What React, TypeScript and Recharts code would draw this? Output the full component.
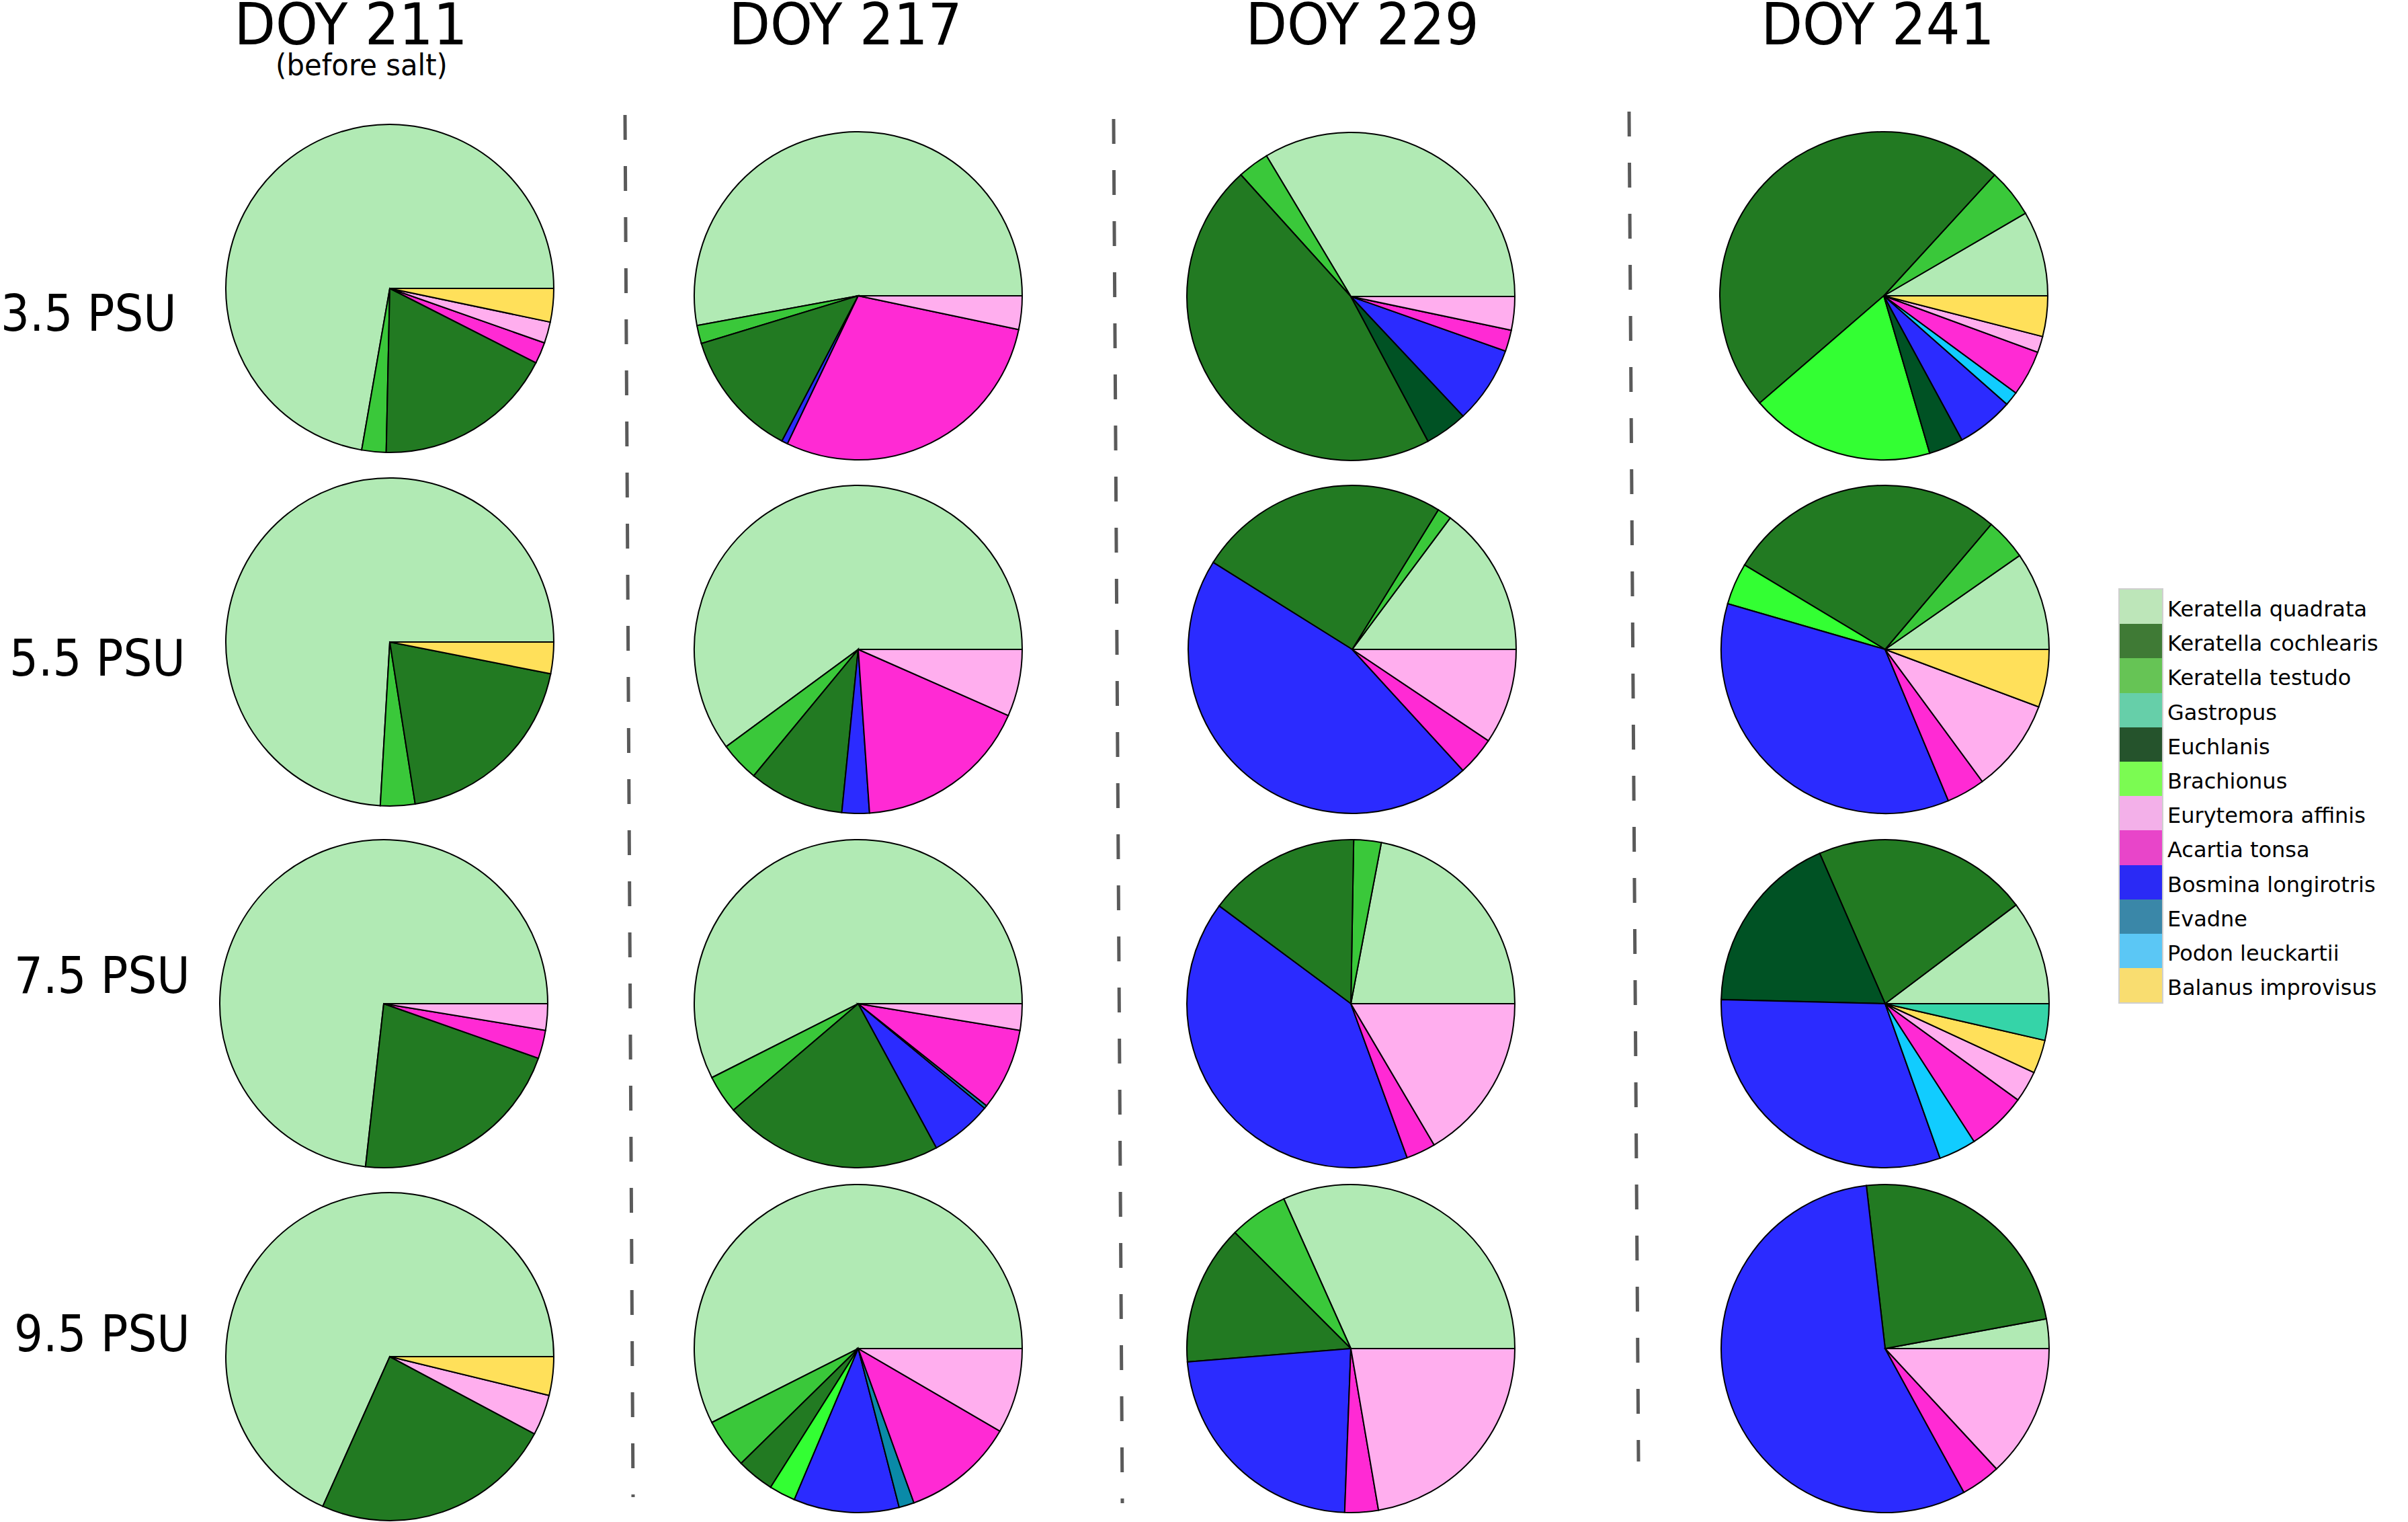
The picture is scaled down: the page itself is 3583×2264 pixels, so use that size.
import React from 'react';
import { PieChart, Pie, Cell } from 'recharts';

// ---------- data ----------
const SPECIES = [
  'Keratella quadrata',
  'Keratella cochlearis',
  'Keratella testudo',
  'Gastropus',
  'Euchlanis',
  'Brachionus',
  'Eurytemora affinis',
  'Acartia tonsa',
  'Bosmina longirotris',
  'Evadne',
  'Podon leuckartii',
  'Balanus improvisus',
];
const DAYS = ['DOY 211', 'DOY 217', 'DOY 229', 'DOY 241'];
const SALINITIES = ['3.5 PSU', '5.5 PSU', '7.5 PSU', '9.5 PSU'];

// relative abundance (%) per salinity row, values in SPECIES order
const doy211 = [
  [72.4, 17.9, 2.4, 0, 0, 0, 2.1, 2.1, 0, 0, 0, 3.3],
  [74.0, 19.4, 3.4, 0, 0, 0, 0, 0, 0, 0, 0, 3.1],
  [73.3, 21.4, 0, 0, 0, 0, 2.6, 2.8, 0, 0, 0, 0],
  [68.3, 23.9, 0, 0, 0, 0, 4.0, 0, 0, 0, 0, 3.8],
];
const doy217 = [
  [52.9, 12.6, 1.8, 0, 0, 0, 3.3, 28.8, 0.6, 0, 0, 0],
  [60.1, 9.4, 3.9, 0, 0, 0, 6.6, 17.3, 2.7, 0, 0, 0],
  [57.5, 21.7, 3.8, 0, 0, 0, 2.6, 8.1, 6.1, 0.3, 0, 0],
  [57.5, 3.7, 4.9, 0, 0, 2.6, 8.4, 11.1, 10.4, 1.5, 0, 0],
];
const doy229 = [
  [33.6, 46.1, 3.1, 0, 4.2, 0, 3.3, 2.1, 7.6, 0, 0, 0],
  [14.8, 24.9, 1.4, 0, 0, 0, 9.4, 3.8, 45.7, 0, 0, 0],
  [22.0, 15.1, 2.7, 0, 0, 0, 16.5, 2.9, 40.7, 0, 0, 0],
  [31.7, 13.8, 5.8, 0, 0, 0, 22.3, 3.3, 23.1, 0, 0, 0],
];
const doy241 = [
  [8.4, 48.2, 4.8, 0, 3.4, 18.2, 1.6, 4.5, 5.6, 0, 1.4, 4.0],
  [9.7, 27.6, 4.1, 0, 0, 4.1, 9.2, 3.8, 35.8, 0, 0, 5.7],
  [10.3, 21.3, 0, 3.6, 18.1, 0, 3.1, 5.9, 30.9, 0, 3.7, 3.3],
  [2.9, 23.9, 0, 0, 0, 0, 13.1, 3.9, 56.1, 0, 0, 0],
];
const COLUMNS = [doy211, doy217, doy229, doy241];

// order in which slices are drawn (counter-clockwise from 3 o'clock)
const DRAW_ORDER = [0, 2, 1, 5, 4, 8, 9, 10, 7, 6, 11, 3];

// ---------- styles / layout ----------
const PIE_COLORS = [
  '#b1eab4', '#227a22', '#3ac83a', '#35d4a8', '#005224', '#33ff33',
  '#ffaeee', '#ff2ad4', '#2b2bff', '#0a8aa8', '#11ccff', '#ffe05a',
];
const LEGEND_COLORS = [
  '#bde6b9', '#3f7a35', '#66c455', '#66cfa9', '#25532c', '#7bfb52',
  '#f3b0e9', '#e845c9', '#2a2af5', '#3a87a8', '#5bc7f5', '#f9dd70',
];
const W = 3583;
const H = 2264;
const R = 244;
const CENTERS = [
  [[580, 429], [580, 955], [571, 1493], [580, 2018]],
  [[1277, 440], [1277, 966], [1277, 1493], [1277, 2006]],
  [[2010, 441], [2012, 966], [2010, 1493], [2010, 2006]],
  [[2803, 440], [2805, 966], [2805, 1493], [2805, 2006]],
];
const TITLE_X = [522, 1258, 2027, 2794];
const ROW_LABEL_POS = [[1, 492], [14, 1005], [21, 1477], [21, 2010]];
const DASH_LINES = [
  [930, 171, 942, 2227],
  [1657, 177, 1670, 2236],
  [2424, 166, 2438, 2174],
];
const FONT = '"DejaVu Sans", Verdana, sans-serif';

function sliceData(values: number[]) {
  return DRAW_ORDER.filter((i) => values[i] > 0).map((i) => ({
    name: SPECIES[i],
    value: values[i],
    idx: i,
  }));
}

export default function App() {
  const legendTop = 877;
  const legendRowH = 51.2;
  return (
    <div
      style={{
        position: 'absolute',
        left: 0,
        top: 0,
        width: W,
        height: H,
        background: '#fff',
        overflow: 'hidden',
        fontFamily: FONT,
      }}
    >
      <div style={{ position: 'absolute', left: 0, top: 0 }}>
        <PieChart width={W} height={H} margin={{ top: 0, right: 0, bottom: 0, left: 0 }}>
          {COLUMNS.map((col, c) =>
            col.map((values, r) => {
              const data = sliceData(values);
              return (
                <Pie
                  key={`p${c}-${r}`}
                  data={data}
                  dataKey="value"
                  nameKey="name"
                  cx={CENTERS[c][r][0]}
                  cy={CENTERS[c][r][1]}
                  innerRadius={0}
                  outerRadius={R}
                  startAngle={0}
                  endAngle={360}
                  paddingAngle={0}
                  stroke="#000"
                  strokeWidth={2}
                  label={false}
                  labelLine={false}
                  isAnimationActive={false}
                >
                  {data.map((d) => (
                    <Cell key={d.name} fill={PIE_COLORS[d.idx]} stroke="#000" strokeWidth={2} />
                  ))}
                </Pie>
              );
            })
          )}
        </PieChart>
      </div>

      <svg
        width={W}
        height={H}
        style={{ position: 'absolute', left: 0, top: 0, pointerEvents: 'none' }}
      >
        {DAYS.map((d, i) => (
          <text
            key={d}
            transform={`translate(${TITLE_X[i]},66) scale(0.93,1)`}
            textAnchor="middle"
            fontFamily={FONT}
            fontSize={86}
            fill="#000"
          >
            {d}
          </text>
        ))}
        <text
          transform="translate(538,112) scale(0.95,1)"
          textAnchor="middle"
          fontFamily={FONT}
          fontSize={44}
          fill="#000"
        >
          (before salt)
        </text>
        {SALINITIES.map((s, i) => (
          <text
            key={s}
            transform={`translate(${ROW_LABEL_POS[i][0]},${ROW_LABEL_POS[i][1]}) scale(0.9,1)`}
            fontFamily={FONT}
            fontSize={75}
            fill="#000"
          >
            {s}
          </text>
        ))}
        {DASH_LINES.map((l, i) => (
          <line
            key={i}
            x1={l[0]}
            y1={l[1]}
            x2={l[2]}
            y2={l[3]}
            stroke="#5a5a5a"
            strokeWidth={5}
            strokeDasharray="37 39"
          />
        ))}
      </svg>

      <div
        style={{
          position: 'absolute',
          left: 3152,
          top: legendTop - 2,
          width: 63,
          height: legendRowH * SPECIES.length,
          border: '2px solid #cfcfcf',
        }}
      >
        {SPECIES.map((s, i) => (
          <div key={s} style={{ width: 63, height: legendRowH, background: LEGEND_COLORS[i] }} />
        ))}
      </div>
      {SPECIES.map((s, i) => (
        <div
          key={s}
          style={{
            position: 'absolute',
            left: 3225,
            top: legendTop + i * legendRowH + 4,
            height: legendRowH,
            lineHeight: `${legendRowH}px`,
            fontSize: 32,
            fontFamily: FONT,
            color: '#000',
            whiteSpace: 'nowrap',
          }}
        >
          {s}
        </div>
      ))}
    </div>
  );
}
